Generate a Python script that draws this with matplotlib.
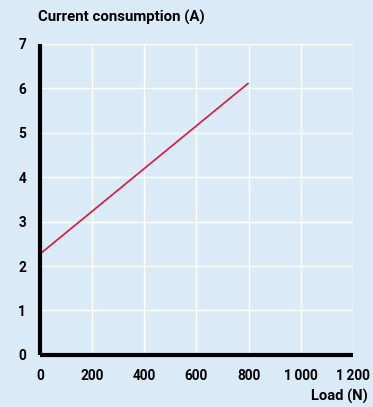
import numpy as np
import matplotlib.pyplot as plt

# data
load = [0, 800]
current = [2.27, 6.12]
x_ticks = [0, 200, 400, 600, 800, 1000, 1200]
x_labels = ['0', '200', '400', '600', '800', '1\u2009000', '1\u2009200']
y_ticks = [0, 1, 2, 3, 4, 5, 6, 7]

bg = '#dbeaf7'
plt.rcParams['font.family'] = ['Roboto', 'DejaVu Sans']

fig = plt.figure(figsize=(3.73, 4.07), dpi=100, facecolor=bg)
ax = fig.add_axes([0.107, 0.128, 0.839, 0.764])
ax.set_facecolor(bg)

ax.plot(load, current, color='#d9173f', lw=1.2, solid_capstyle='butt')

ax.set_xlim(0, 1200)
ax.set_ylim(0, 7)
ax.set_xticks(x_ticks)
ax.set_xticklabels(x_labels)
ax.set_yticks(y_ticks)
ax.grid(True, color='white', lw=1.0)
ax.set_axisbelow(True)

for s in ['top', 'right']:
    ax.spines[s].set_visible(False)
for s in ['left', 'bottom']:
    ax.spines[s].set_linewidth(3)
    ax.spines[s].set_color('black')
    ax.spines[s].set_capstyle('butt')

ax.tick_params(length=0, labelsize=9.8, pad=10)
for lab in ax.get_xticklabels() + ax.get_yticklabels():
    lab.set_fontweight('bold')

fig.text(0.102, 0.958, 'Current consumption (A)', fontsize=10.8, fontweight='bold', va='center', ha='left')
fig.text(0.987, 0.027, 'Load (N)', fontsize=10.6, fontweight='bold', va='center', ha='right')

fig.savefig('out.png', dpi=100, facecolor=bg)
